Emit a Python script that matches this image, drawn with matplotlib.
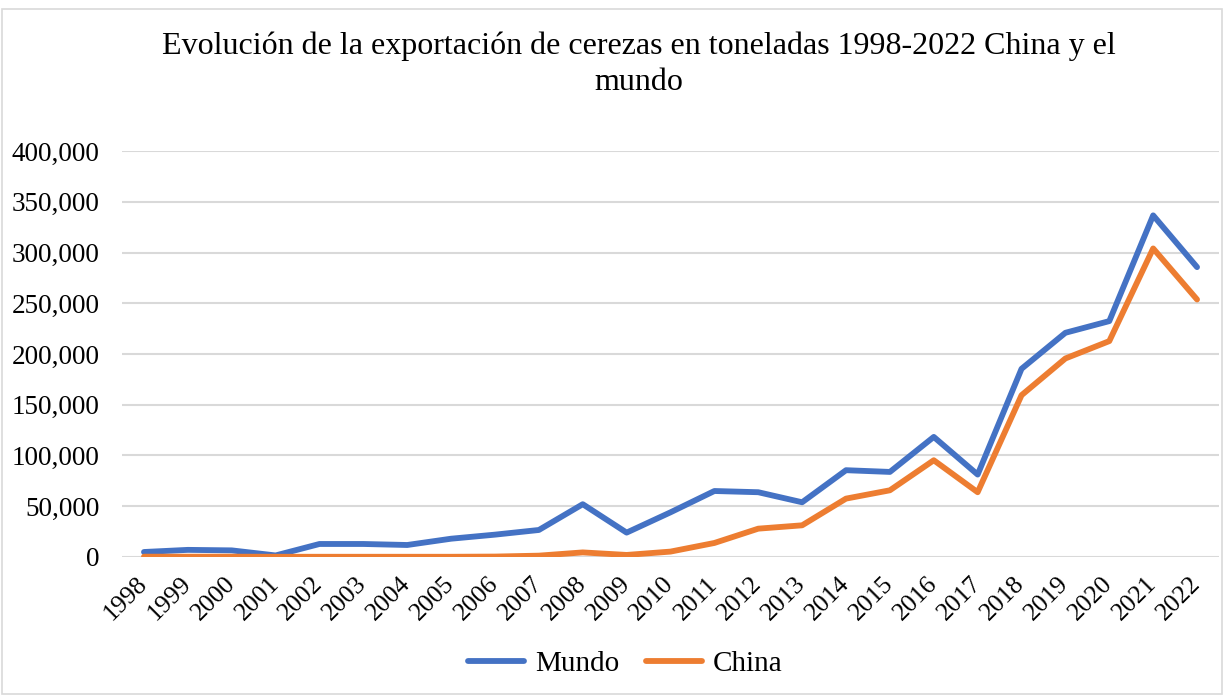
import matplotlib.pyplot as plt
from matplotlib.patches import Rectangle
from matplotlib.ticker import FuncFormatter

plt.rcParams['font.family'] = ['Liberation Serif', 'DejaVu Serif']

years = [str(y) for y in range(1998, 2023)]
mundo = [4900, 7000, 6500, 1500, 12800, 12800, 11800, 18000, 22000, 26600,
         52000, 24000, 44000, 65000, 63800, 53900, 85500, 83800, 118300, 81200,
         185400, 220900, 232400, 336600, 285600]
china = [300, 300, 300, 200, 200, 200, 200, 200, 400, 1300,
         4500, 2000, 5300, 13800, 27900, 31200, 57500, 65700, 95300, 63800,
         159400, 195600, 212700, 304000, 253700]

blue = '#4472C4'
orange = '#ED7D31'

fig = plt.figure(figsize=(12.24, 6.95), dpi=100)
ax = fig.add_axes([0.0997, 0.1986, 0.8962, 0.5841])

x = range(len(years))
ax.plot(x, mundo, color=blue, linewidth=4.2, label='Mundo', solid_capstyle='round', solid_joinstyle='round')
ax.plot(x, china, color=orange, linewidth=4.2, label='China', solid_capstyle='round', solid_joinstyle='round')

ax.set_xlim(-0.5, len(years) - 0.5)
ax.set_ylim(0, 400000)
ax.set_yticks(range(0, 400001, 50000))
ax.yaxis.set_major_formatter(FuncFormatter(lambda v, p: f'{int(v):,}'))
ax.set_xticks(list(x))
ax.set_xticklabels(years, rotation=45, ha='right', va='center', rotation_mode='anchor')
ax.tick_params(axis='both', length=0, colors='black')
ax.tick_params(axis='x', pad=17, labelsize=18.5)
ax.tick_params(axis='y', pad=16, labelsize=19.5)
ax.grid(axis='y', color='#D9D9D9', linewidth=1.5)
ax.set_axisbelow(True)
for s in ax.spines.values():
    s.set_visible(False)

fig.text(0.522, 0.955, 'Evolución de la exportación de cerezas en toneladas 1998-2022 China y el\nmundo',
         ha='center', va='top', fontsize=23, linespacing=1.32)

fig.legend(loc='center', bbox_to_anchor=(0.511, 0.045), ncol=2, frameon=False, fontsize=21,
           handlelength=1.9, columnspacing=0.93, handletextpad=0.38)

fig.add_artist(Rectangle((0.002, 0.002), 0.996, 0.985, transform=fig.transFigure,
                         fill=False, edgecolor='#D9D9D9', linewidth=1.2))

fig.savefig('out.png', dpi=100)
